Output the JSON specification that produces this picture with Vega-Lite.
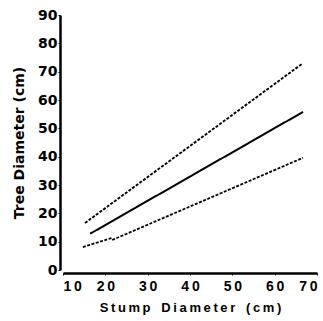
{
  "$schema": "https://vega.github.io/schema/vega-lite/v6.json",
  "width": 254,
  "height": 255,
  "autosize": {"type": "none"},
  "padding": {"left": 63, "top": 15, "right": 6, "bottom": 51},
  "background": "white",
  "config": {
    "view": {"stroke": null},
    "axis": {
      "grid": false,
      "domainColor": "black",
      "domainWidth": 2.5,
      "tickColor": "black",
      "tickSize": 2,
      "tickWidth": 1,
      "labelFont": "Liberation Sans",
      "labelFontWeight": "bold",
      "labelColor": "black",
      "titleFont": "Liberation Sans",
      "titleFontWeight": "bold",
      "titleColor": "black"
    }
  },
  "data": {
    "values": [
      {"series": "fit", "order": 1, "x": 16.4, "y": 12.8},
      {"series": "fit", "order": 2, "x": 66.7, "y": 55.8},
      {"series": "upper", "order": 1, "x": 15.2, "y": 16.6},
      {"series": "upper", "order": 2, "x": 66.5, "y": 72.8},
      {"series": "lower", "order": 1, "x": 14.7, "y": 8.1},
      {"series": "lower", "order": 2, "x": 21.5, "y": 11.3},
      {"series": "lower", "order": 3, "x": 21.8, "y": 10.7},
      {"series": "lower", "order": 4, "x": 66.7, "y": 39.6}
    ]
  },
  "mark": {"type": "line", "color": "black", "clip": false},
  "encoding": {
    "x": {
      "field": "x",
      "type": "quantitative",
      "scale": {"domain": [10, 70], "nice": false, "zero": false},
      "axis": {
        "values": [10, 20, 30, 40, 50, 60, 70],
        "offset": 3,
        "labelFontSize": 14,
        "labelPadding": 4,
        "labelExpr": "substring(datum.label,0,1) + '\u2009' + substring(datum.label,1)",
        "title": "S\u2009t\u2009u\u2009m\u2009p\u00a0\u00a0\u00a0D\u2009i\u2009a\u2009m\u2009e\u2009t\u2009e\u2009r\u00a0\u00a0\u00a0(\u2009c\u2009m\u2009)",
        "titleFontSize": 13,
        "titlePadding": 8
      }
    },
    "y": {
      "field": "y",
      "type": "quantitative",
      "scale": {"domain": [0, 90], "nice": false},
      "axis": {
        "values": [0, 10, 20, 30, 40, 50, 60, 70, 80, 90],
        "offset": 3,
        "labelFont": "DejaVu Sans",
        "labelFontSize": 14,
        "labelPadding": 1,
        "title": "Tree Diameter (cm)",
        "titleFont": "DejaVu Sans",
        "titleFontSize": 14,
        "titlePadding": 11
      }
    },
    "order": {"field": "order", "type": "quantitative"},
    "detail": {"field": "series", "type": "nominal"},
    "strokeDash": {
      "field": "series",
      "type": "nominal",
      "scale": {"domain": ["fit", "upper", "lower"], "range": [[1, 0], [3, 1.5], [3, 1.5]]},
      "legend": null
    },
    "strokeWidth": {
      "field": "series",
      "type": "nominal",
      "scale": {"domain": ["fit", "upper", "lower"], "range": [2, 1.8, 1.8]},
      "legend": null
    }
  }
}
